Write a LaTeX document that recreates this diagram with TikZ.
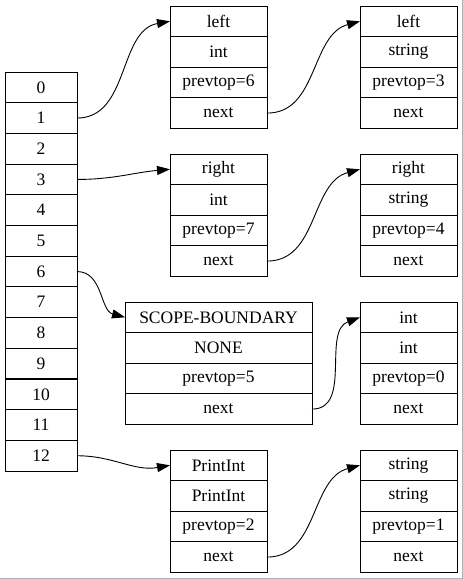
\documentclass[tikz,border=0pt]{standalone}
\usepackage{fontspec}
\setmainfont{Liberation Serif}
\usepackage{tikz}
\usetikzlibrary{
  arrows.meta
}
\def\rowh{30.6}
\tikzset{
  cell/.style={
    draw,
    line width=1pt,
    minimum width=72pt,
    minimum height=\rowh pt,
    inner sep=0pt,
    outer sep=0pt,
    font=\fontsize{17.5}{20}\selectfont
  },
  field/.style={
    cell,
    minimum width=#1
  },
  link/.style={
    line width=0.9pt,
    -{Triangle[length=13pt,width=9pt]}
  }
}
% name, centre x, top y, width, fields
\newcommand\record[5]{%
  \foreach \t [count=\k] in {#5} {
    \node[field=#4] (#1\k) at (#2,{#3+\rowh*(\k-0.5)}) {\t};
  }%
}

\begin{document}
\begin{tikzpicture}[x=1pt,y=-1pt]
  \useasboundingbox (0,0) rectangle (463,579);
  \draw[gray!60,line width=1pt] (462,0) -- (462,578) -- (0,578);

  % stack
  \foreach \i in {0,...,12} {
    \node[cell] (a\i) at (41,{72+30.7*(\i+0.5)}) {\i};
  }

  % first column
  \record{left}{218.5}{6}{97pt}{left,int,prevtop=6,next}
  \record{right}{218.5}{154}{97pt}{right,int,prevtop=7,next}
  \record{scope}{218.5}{302}{187pt}{SCOPE-BOUNDARY,NONE,prevtop=5,next}
  \record{print}{218.5}{450}{97pt}{PrintInt,PrintInt,prevtop=2,next}

  % second column
  \record{lefts}{408.5}{6}{97pt}{left,string,prevtop=3,next}
  \record{rights}{408.5}{154}{97pt}{right,string,prevtop=4,next}
  \record{ints}{408.5}{302}{97pt}{int,int,prevtop=0,next}
  \record{strs}{408.5}{450}{97pt}{string,string,prevtop=1,next}

  % stack to records
  \draw[link] (a1.east) to[out=0,in=190] (left1.west);
  \draw[link] (a3.east) to[out=0,in=185] (right1.west);
  \draw[link] (a6.east) to[out=0,in=165] (scope1.west);
  \draw[link] (a12.east) to[out=0,in=190] (print1.west);

  % next pointers
  \draw[link] (left4.east) to[out=0,in=195] (lefts1.west);
  \draw[link] (right4.east) to[out=0,in=195] (rights1.west);
  \draw[link] (scope4.east) to[out=0,in=200] (ints1.west);
  \draw[link] (print4.east) to[out=0,in=195] (strs1.west);

\end{tikzpicture}
\end{document}
